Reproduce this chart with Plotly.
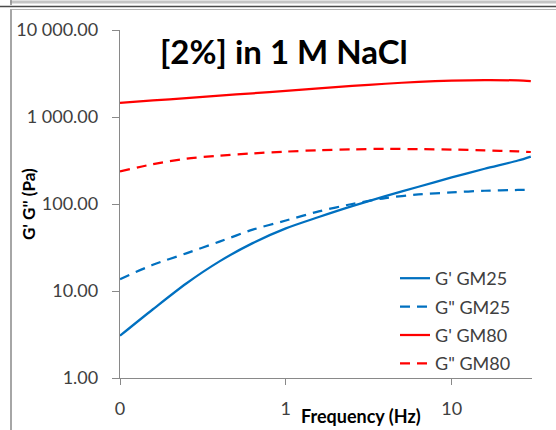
import plotly.graph_objects as go

# ---- data ----
freq_hz = [0.1, 0.158, 0.251, 0.398, 0.631, 1.0, 1.58, 2.51, 3.98, 6.31, 10.0, 15.8, 25.1, 30.0]
g1_gm25 = [3.06, 6.17, 12.2, 21.9, 35.5, 52.4, 70.8, 94.4, 123, 158, 202, 254, 316, 351]
g2_gm25 = [13.7, 20.0, 27.1, 36.9, 50.7, 64.6, 82.2, 100, 117, 129, 136, 142, 145, 146]
g1_gm80 = [1456, 1550, 1650, 1757, 1874, 1997, 2128, 2274, 2411, 2535, 2617, 2654, 2632, 2590]
g2_gm80 = [237, 287, 332, 360, 382, 400, 416, 425, 430, 427, 422, 413, 402, 396]

series_names = ["G' GM25", 'G" GM25', "G' GM80", 'G" GM80']
y_tickvals = [1, 10, 100, 1000, 10000]
y_ticktext = ["1.00", "10.00", "100.00", "1 000.00", "10 000.00"]
x_tickvals = [0.1, 1, 10]
x_ticktext = ["0", "1", "10"]

title_text = "[2%] in 1 M NaCl"
x_title = "Frequency (Hz)"
y_title = "G' G'' (Pa)"

BLUE = "#0070C0"
RED = "#FF0000"
FONT = "Lato"
DASH = "10px,7px"

fig = go.Figure()
styles = [(g1_gm25, BLUE, "solid"), (g2_gm25, BLUE, DASH),
          (g1_gm80, RED, "solid"), (g2_gm80, RED, DASH)]
for i, (name, (vals, col, dash)) in enumerate(zip(series_names, styles)):
    fig.add_trace(go.Scatter(
        x=freq_hz, y=vals, name=name, mode="lines", legendgroup=f"g{i}",
        line=dict(color=col, width=2.25, dash=dash, shape="spline", smoothing=0.8),
    ))

W, H = 556, 430
L, R, T, B = 120, 24, 30, 52
pw, ph = W - L - R, H - T - B


def px(xpix):
    return (xpix - L) / pw


def py(ypix):
    return (H - B - ypix) / ph


axis_col = "#898989"
fig.update_layout(
    width=W, height=H,
    margin=dict(l=L, r=R, t=T, b=B, pad=0),
    paper_bgcolor="white", plot_bgcolor="white",
    font=dict(family=FONT, size=18, color="#404040"),
    showlegend=True,
    legend=dict(
        x=px(395), y=py(260), xanchor="left", yanchor="top",
        bgcolor="rgba(0,0,0,0)", font=dict(family=FONT, size=18, color="#404040"),
        tracegroupgap=2,
    ),
    xaxis=dict(
        type="log", range=[-1, 1.4843],
        tickvals=x_tickvals, ticktext=x_ticktext,
        showgrid=False, zeroline=False,
        showline=True, linecolor=axis_col, linewidth=1.3,
        ticks="outside", ticklen=6, tickcolor=axis_col, tickwidth=1.3,
        ticklabelstandoff=8,
        tickfont=dict(family=FONT, size=18, color="#404040"),
    ),
    yaxis=dict(
        type="log", range=[0, 4],
        tickvals=y_tickvals, ticktext=y_ticktext,
        showgrid=False, zeroline=False,
        showline=True, linecolor=axis_col, linewidth=1.3,
        ticks="outside", ticklen=7, tickcolor=axis_col, tickwidth=1.3,
        ticklabelstandoff=10,
        tickfont=dict(family=FONT, size=18, color="#404040"),
    ),
)

fig.add_annotation(
    text=f"<b>{title_text}</b>", xref="paper", yref="paper",
    x=px(283.5), y=py(50.5), xanchor="center", yanchor="middle",
    showarrow=False, font=dict(family=FONT, size=33, color="black"),
)
fig.add_annotation(
    text=f"<b>{x_title}</b>", xref="paper", yref="paper",
    x=px(361), y=py(416), xanchor="center", yanchor="middle",
    showarrow=False, font=dict(family=FONT, size=18, color="black"),
)
fig.add_annotation(
    text=f"<b>{y_title}</b>", xref="paper", yref="paper",
    x=px(28), y=py(204), xanchor="center", yanchor="middle", textangle=-90,
    showarrow=False, font=dict(family=FONT, size=17, color="black"),
)

# chart frame (cropped Excel chart borders)
frame = [
    (10, 2, W, 2, "#c4c4c4", 3),
    (0, 6.5, W, 6.5, "#4a4a4a", 1.6),
    (10, 9.5, W, 9.5, "#b4b4b4", 1),
    (11, 9.5, 11, H, "#a6a6a6", 2),
    (11, 0, 11, 5, "#8a8a8a", 1.5),
]
for x0, y0, x1, y1, c, w in frame:
    fig.add_shape(type="line", xref="paper", yref="paper",
                  x0=px(x0), y0=py(y0), x1=px(x1), y1=py(y1),
                  line=dict(color=c, width=w), layer="above")

fig.write_html(
    "out.html",
    config={"displayModeBar": False},
    post_script="document.body.style.margin='0';document.body.style.overflow='hidden';",
)
